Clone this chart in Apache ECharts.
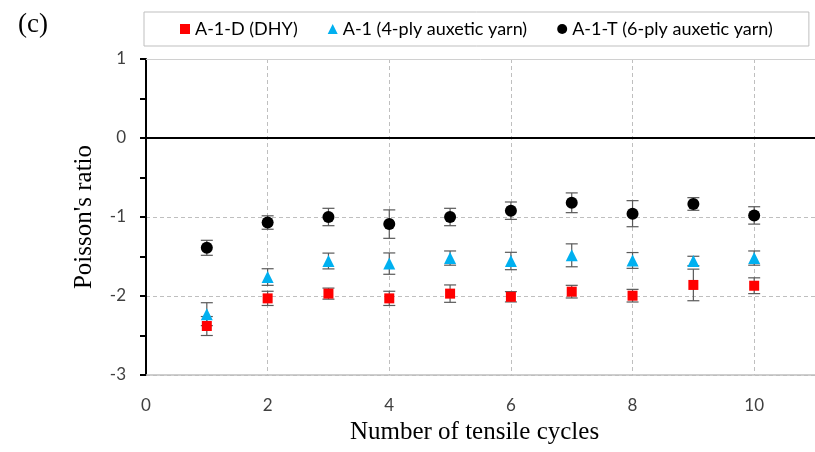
<!DOCTYPE html>
<html><head><meta charset="utf-8">
<script src="https://cdn.jsdelivr.net/npm/echarts@6/dist/echarts.min.js"></script>
<style>html,body{margin:0;padding:0;background:#fff}#c{width:815px;height:452px}</style>
</head><body><div id="c"></div>
<script>
const cycles = [1, 2, 3, 4, 5, 6, 7, 8, 9, 10];
const dhyMean = [-2.38, -2.03, -1.97, -2.03, -1.97, -2.01, -1.945, -1.996, -1.86, -1.87];
const dhyErr  = [0.12, 0.09, 0.07, 0.09, 0.11, 0.065, 0.08, 0.08, 0.2, 0.1];
const ply4Mean = [-2.23, -1.76, -1.557, -1.59, -1.52, -1.557, -1.485, -1.55, -1.557, -1.52];
const ply4Err  = [0.145, 0.105, 0.1, 0.135, 0.09, 0.11, 0.145, 0.1, 0.06, 0.09];
const ply6Mean = [-1.39, -1.07, -1.0, -1.09, -1.0, -0.92, -0.82, -0.958, -0.835, -0.98];
const ply6Err  = [0.095, 0.085, 0.11, 0.18, 0.11, 0.11, 0.125, 0.165, 0.08, 0.11];
const seriesNames = ['A-1-D (DHY)', 'A-1 (4-ply auxetic yarn)', 'A-1-T (6-ply auxetic yarn)'];
const xTicks = [0, 2, 4, 6, 8, 10];
const yTicks = [-3, -2, -1, 0, 1];

const chart = echarts.init(document.getElementById('c'), null, {renderer: 'canvas'});

function errData(mean, err) {
  return cycles.map((c, i) => [c, mean[i] - err[i], mean[i] + err[i]]);
}
function renderErr(params, api) {
  const x = api.value(0);
  const lo = api.coord([x, api.value(1)]);
  const hi = api.coord([x, api.value(2)]);
  const w = 6;
  const st = {stroke: '#595959', lineWidth: 1.2};
  return {type: 'group', children: [
    {type: 'line', shape: {x1: hi[0], y1: hi[1], x2: lo[0], y2: lo[1]}, style: st},
    {type: 'line', shape: {x1: hi[0] - w, y1: hi[1], x2: hi[0] + w, y2: hi[1]}, style: st},
    {type: 'line', shape: {x1: lo[0] - w, y1: lo[1], x2: lo[0] + w, y2: lo[1]}, style: st}
  ]};
}
function pts(mean) { return cycles.map((c, i) => [c, mean[i]]); }

const labelFont = 'Lato, "Open Sans", sans-serif';
const serif = '"Liberation Serif", "DejaVu Serif", serif';

chart.setOption({
  animation: false,
  title: {text: '(c)', left: 13, top: 6, textStyle: {fontFamily: serif, fontSize: 27, fontWeight: 'normal', color: '#000'}},
  legend: {
    data: [
      {name: seriesNames[0], icon: 'rect'},
      {name: seriesNames[1], icon: 'triangle'},
      {name: seriesNames[2], icon: 'circle'}
    ],
    left: 144, top: 12,
    padding: [8, 36, 8, 36],
    itemGap: 30, itemWidth: 10, itemHeight: 10,
    borderColor: '#bfbfbf', borderWidth: 1,
    textStyle: {fontFamily: labelFont, fontSize: 18, color: '#000'}
  },
  grid: {left: 146, top: 59, bottom: 77, right: -10, containLabel: false},
  xAxis: {
    type: 'value', min: 0, max: 11, interval: 2,
    name: 'Number of tensile cycles', nameLocation: 'middle', nameGap: 45,
    nameTextStyle: {fontFamily: serif, fontSize: 25, color: '#000', padding: [0, 12, 0, 0]},
    axisLine: {onZero: false, lineStyle: {color: '#bfbfbf', width: 1.5}},
    axisTick: {show: false},
    axisLabel: {fontFamily: labelFont, fontSize: 17, color: '#404040', margin: 22, showMaxLabel: false,
      formatter: v => xTicks.indexOf(v) >= 0 ? String(v) : ''},
    splitLine: {show: true, lineStyle: {type: [4, 3], color: '#bfbfbf', width: 1}}
  },
  yAxis: {
    type: 'value', min: -3, max: 1, interval: 1,
    name: "Poisson's ratio", nameLocation: 'middle', nameGap: 49, nameRotate: 90,
    nameTextStyle: {fontFamily: serif, fontSize: 25, color: '#000'},
    axisLine: {show: true, lineStyle: {color: '#000', width: 2}},
    axisTick: {show: true, length: 6, lineStyle: {color: '#000', width: 2}},
    minorTick: {show: true, splitNumber: 2, length: 6, lineStyle: {color: '#000', width: 2}},
    axisLabel: {fontFamily: labelFont, fontSize: 17, color: '#404040', margin: 20,
      formatter: v => yTicks.indexOf(v) >= 0 ? String(v) : ''},
    splitLine: {show: true, lineStyle: {type: [4, 3], color: '#bfbfbf', width: 1}}
  },
  series: [
    {type: 'custom', name: 'errDHY', renderItem: renderErr, data: errData(dhyMean, dhyErr), encode: {x: 0, y: [1, 2]}, z: 2, silent: true},
    {type: 'custom', name: 'err4', renderItem: renderErr, data: errData(ply4Mean, ply4Err), encode: {x: 0, y: [1, 2]}, z: 2, silent: true},
    {type: 'custom', name: 'err6', renderItem: renderErr, data: errData(ply6Mean, ply6Err), encode: {x: 0, y: [1, 2]}, z: 2, silent: true},
    {type: 'scatter', name: seriesNames[0], data: pts(dhyMean), symbol: 'rect', symbolSize: 10,
      itemStyle: {color: '#ff0000', opacity: 1}, z: 5,
      markLine: {silent: true, symbol: 'none', label: {show: false},
        data: [
          {yAxis: 0, lineStyle: {color: '#000', width: 2, type: 'solid'}},
          {yAxis: 1, lineStyle: {color: '#d0d0d0', width: 1, type: 'solid'}}
        ]}},
    {type: 'scatter', name: seriesNames[1], data: pts(ply4Mean), symbol: 'triangle', symbolSize: 12,
      itemStyle: {color: '#00b0f0', opacity: 1}, z: 5},
    {type: 'scatter', name: seriesNames[2], data: pts(ply6Mean), symbol: 'circle', symbolSize: 12,
      itemStyle: {color: '#000', opacity: 1}, z: 5}
  ]
});
</script>
</body></html>
